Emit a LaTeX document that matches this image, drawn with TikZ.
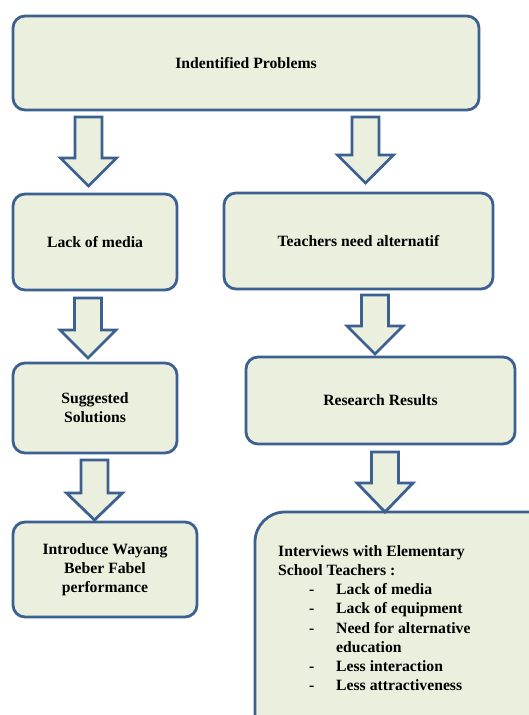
\documentclass[tikz,border=0pt]{standalone}
\usepackage{fontspec}
\setmainfont{Liberation Serif}
\definecolor{boxfill}{RGB}{235,239,222}
\definecolor{boxline}{RGB}{60,96,144}
\newcommand\blockarr[4]{% cx, top, head start, tip
  \draw[arrowshape] (#1-13.5,#2) -- (#1+13.5,#2) -- (#1+13.5,#3) -- (#1+28,#3)
    -- (#1,#4) -- (#1-28,#3) -- (#1-13.5,#3) -- cycle;}
\begin{document}
\begin{tikzpicture}[x=1pt,y=-1pt,
  box/.style={draw=boxline, fill=boxfill, line width=2.8pt, rounded corners=12pt,
    font=\bfseries\fontsize{15.7}{19}\selectfont, align=center, inner sep=2pt},
  arrowshape/.style={draw=boxline, fill=boxfill, line width=2.8pt, line join=miter}]
\useasboundingbox (0,0) rectangle (529,715);
\node[box, minimum width=466pt, minimum height=94pt] (top) at (246,63) {Indentified Problems};
\node[box, minimum width=164pt, minimum height=96pt] (lack) at (95,242) {Lack of media};
\node[box, minimum width=269pt, minimum height=96pt] (teach) at (358.5,241) {Teachers need alternatif};
\node[box, minimum width=164pt, minimum height=90pt] (sugg) at (95,408) {Suggested\\Solutions};
\node[box, minimum width=269pt, minimum height=87pt] (res) at (380.5,400.5) {Research Results};
\node[box, minimum width=184pt, minimum height=95pt] (intro) at (105,569.5) {Introduce Wayang\\Beber Fabel\\performance};
\begin{scope}
\clip (0,0) rectangle (529,715);
\draw[draw=boxline, fill=boxfill, line width=2.8pt, rounded corners=30pt]
  (255,512) rectangle (580,760);
\end{scope}
\node[anchor=north west, inner sep=0pt, align=left,
  font=\bfseries\fontsize{15.7}{19.15}\selectfont] (interv) at (278,545.4)
  {Interviews with Elementary\\
   School Teachers :\\
   \hspace*{31pt}\makebox[27pt][l]{-}Lack of media\\
   \hspace*{31pt}\makebox[27pt][l]{-}Lack of equipment\\
   \hspace*{31pt}\makebox[27pt][l]{-}Need for alternative\\
   \hspace*{58pt}education\\
   \hspace*{31pt}\makebox[27pt][l]{-}Less interaction\\
   \hspace*{31pt}\makebox[27pt][l]{-}Less attractiveness};
\blockarr{88.5}{117}{158}{186}
\blockarr{365.5}{117}{155}{183}
\blockarr{88}{298}{330}{358}
\blockarr{375}{295}{326}{354}
\blockarr{94.5}{460}{493}{520}
\blockarr{385}{452}{483}{512}
\end{tikzpicture}
\end{document}
